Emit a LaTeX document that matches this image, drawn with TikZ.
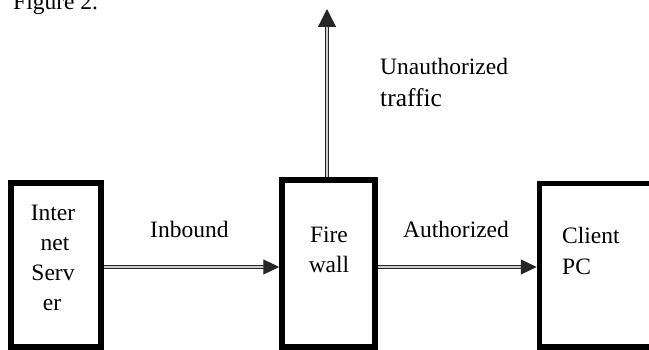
\documentclass[tikz,border=0pt]{standalone}
\usepackage{fontspec}
\setmainfont{Liberation Serif}
\usetikzlibrary{arrows.meta}
\begin{document}
\begin{tikzpicture}[x=1pt,y=-1pt,
  box/.style={draw=black, line width=5.5pt, fill=white, inner sep=0pt},
  txt/.style={font=\fontsize{23.5}{30}\selectfont, inner sep=0pt},
  flow/.style={draw=black!85, line width=1.1pt, double=black!20, double distance=1.6pt,
    -{Triangle[length=16pt,width=15pt]}},
  flowup/.style={flow, -{Triangle[length=18pt,width=18pt]}}]
\useasboundingbox (0,0) rectangle (649,350);
\clip (0,0) rectangle (649,350);

% the three stations
\node[box, minimum width=90pt, minimum height=164pt] (server) at (56,265) {};
\node[box, minimum width=93pt, minimum height=167pt] (firewall) at (328.5,263.5) {};
\node[box, minimum width=160pt, minimum height=163.5pt] (client) at (619.5,265.25) {};

% traffic flows
\coordinate (out) at (327,9);
\draw[flow] ([yshift=-2pt]server.east) -- ([yshift=-3.5pt]firewall.west);
\draw[flow] ([yshift=-3.5pt]firewall.east) -- ([yshift=-1.75pt]client.west);
\draw[flowup] ([xshift=-1.5pt]firewall.north) -- (out);

% captions
\node[txt, anchor=base west] (fig) at (13,10) {Figure 2.};
\node[txt, anchor=base west] (unauth) at (380,75) {Unauthorized};
\node[txt, anchor=base west, font=\fontsize{25.5}{30}\selectfont] (traffic) at (380,107) {traffic};
\node[txt, anchor=base west] (inb) at (150,238) {Inbound};
\node[txt, anchor=base west] (auth) at (403,238) {Authorized};

% box texts
\node[txt, anchor=base] (s1) at (53,221) {Inter};
\node[txt, anchor=base] (s2) at (55,251) {net};
\node[txt, anchor=base] (s3) at (53,281) {Serv};
\node[txt, anchor=base] (s4) at (52,311) {er};
\node[txt, anchor=base] (f1) at (329,243) {Fire};
\node[txt, anchor=base] (f2) at (329,273) {wall};
\node[txt, anchor=base west] (c1) at (562,244) {Client};
\node[txt, anchor=base west] (c2) at (562,275) {PC};
\end{tikzpicture}
\end{document}
